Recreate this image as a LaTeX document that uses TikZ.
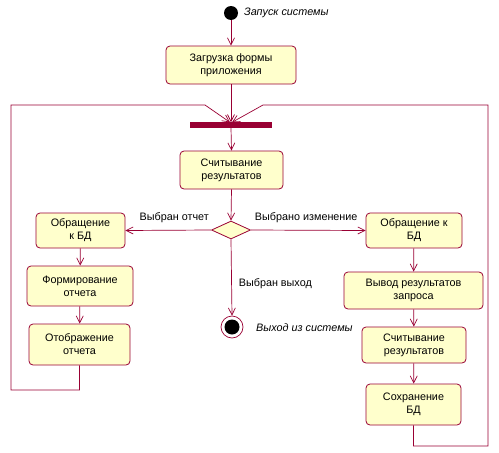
\documentclass[tikz,border=0pt]{standalone}
\usepackage{fontspec}
\setmainfont{Liberation Sans}
\usetikzlibrary{arrows.meta,shapes.geometric}
\definecolor{umlline}{RGB}{153,0,51}
\definecolor{umlfill}{RGB}{255,255,204}
\tikzset{
  act/.style={draw=umlline, fill=umlfill, rounded corners=4pt, line width=0.8pt, align=center, font=\fontsize{10.8}{13}\selectfont, inner sep=0pt},
  flow/.style={draw=umlline, line width=0.7pt, -{Straight Barb[length=7pt,width=7pt]}},
  lbl/.style={font=\fontsize{10.8}{13}\selectfont, inner sep=0pt},
  ilbl/.style={font=\fontsize{10.8}{13}\selectfont\itshape, inner sep=0pt, anchor=west},
}
\begin{document}
\begin{tikzpicture}[x=1pt,y=-1pt]
\useasboundingbox (0,0) rectangle (499,453);
% start
\node[circle, fill=black, minimum size=14pt, inner sep=0pt] (start) at (231,13) {};
\node[ilbl] (startlbl) at (244,13) {Запуск системы};
% boxes
\node[act, minimum width=130pt, minimum height=38pt] (load) at (231,65) {Загрузка формы\\приложения};
\node[draw=umlline, fill=umlline, minimum width=81pt, minimum height=5pt, inner sep=0pt] (bar) at (231,125) {};
\node[act, minimum width=103pt, minimum height=38pt] (read) at (231.5,170) {Считывание\\результатов};
\node[diamond, draw=umlline, fill=umlfill, line width=0.8pt, minimum width=39pt, minimum height=18pt, inner sep=0pt, aspect=2.2] (dec) at (231,230) {};
\node[act, minimum width=89pt, minimum height=35pt] (lq) at (80.5,230.5) {Обращение\\к БД};
\node[act, minimum width=106pt, minimum height=40pt] (form) at (80,286) {Формирование\\отчета};
\node[act, minimum width=101pt, minimum height=41pt] (show) at (79.5,344.5) {Отображение\\отчета};
\node[act, minimum width=96pt, minimum height=35pt] (rq) at (414,230.5) {Обращение к\\БД};
\node[act, minimum width=139pt, minimum height=37pt] (out) at (413.5,290.5) {Вывод результатов\\запроса};
\node[act, minimum width=104pt, minimum height=36pt] (rread) at (414,345) {Считывание\\результатов};
\node[act, minimum width=95pt, minimum height=41pt] (save) at (413.5,404.5) {Сохранение\\БД};
% end
\node[circle, draw=umlline, fill=white, line width=0.7pt, minimum size=22pt, inner sep=0pt] (end) at (232,327) {};
\node[circle, fill=black, minimum size=15pt, inner sep=0pt] (endin) at (232,327) {};
\node[ilbl] (endlbl) at (256,328) {Выход из системы};
% coordinates
\coordinate (lt) at (11,105);
\coordinate (lb) at (11,390);
\coordinate (lm) at (205,105);
\coordinate (rt) at (488,105);
\coordinate (rb) at (488,446);
\coordinate (rm) at (263,105);
% flows
\draw[flow] (start) -- (load);
\draw[flow] (load.south) -- (bar.north);
\draw[flow] (bar.south) -- (read.north);
\draw[flow] (read.south) -- (dec.north);
\draw[flow] (dec.west) -- node[lbl, above=7pt, xshift=6pt] (l1) {Выбран отчет} (lq.east);
\draw[flow] (dec.east) -- node[lbl, above=7pt, xshift=-2pt] (l2) {Выбрано изменение} (rq.west);
\draw[flow] (dec.south) -- node[lbl, right=7pt, yshift=-6pt] (l3) {Выбран выход} (end.north);
\draw[flow] (lq) -- (form);
\draw[flow] (form) -- (show);
\draw[flow] (rq) -- (out);
\draw[flow] (out) -- (rread);
\draw[flow] (rread) -- (save);
% loops
\draw[flow] (show.south) -- (show.south |- lb) -- (lb) -- (lt) -- (lm) -- ([xshift=-1pt]bar.north);
\draw[flow] (save.south) -- (save.south |- rb) -- (rb) -- (rt) -- (rm) -- ([xshift=1pt]bar.north);
\end{tikzpicture}
\end{document}
